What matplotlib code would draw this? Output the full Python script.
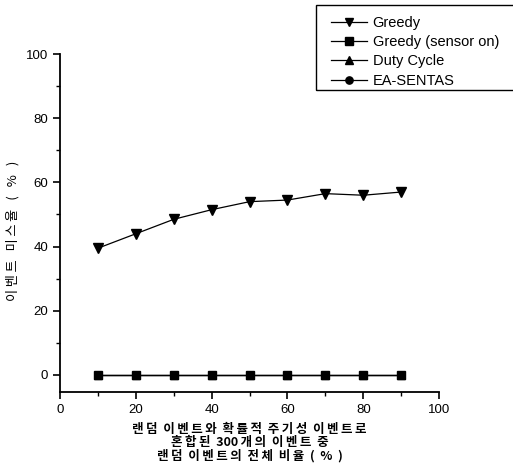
import matplotlib
matplotlib.use("Agg")
import matplotlib.pyplot as plt
from matplotlib.ticker import MultipleLocator
from matplotlib.patches import Rectangle

plt.rcParams['font.family'] = ['Liberation Sans', 'Noto Sans CJK KR', 'DejaVu Sans']

x = [10, 20, 30, 40, 50, 60, 70, 80, 90]
greedy = [39.5, 44, 48.5, 51.5, 54, 54.5, 56.5, 56, 57]
greedy_sensor_on = [0, 0, 0, 0, 0, 0, 0, 0, 0]
duty_cycle = [0, 0, 0, 0, 0, 0, 0, 0, 0]
ea_sentas = [0, 0, 0, 0, 0, 0, 0, 0, 0]
labels = ['Greedy', 'Greedy (sensor on)', 'Duty Cycle', 'EA-SENTAS']
xlabel_lines = ["랜덤 이벤트와 확률적 주기성 이벤트로", "혼합된 300개의 이벤트 중", "랜덤 이벤트의 전체 비율 ( % )"]
ylabel = "이벤트 미스율 ( % )"

TS = "\u2009"


def spaced(s, word_gap='  '):
    out = []
    for i, ch in enumerate(s):
        if ch == ' ':
            out.append(word_gap)
            continue
        out.append(ch)
        if i < len(s) - 1 and s[i + 1] != ' ' and not (ch.isdigit() and s[i + 1].isdigit()):
            out.append(TS)
    return "".join(out)


fig = plt.figure(figsize=(5.13, 4.68), dpi=100)
ax = fig.add_axes([0.117, 0.1624, 0.739, 0.7222])

series = [greedy, greedy_sensor_on, duty_cycle, ea_sentas]
markers = ['v', 's', '^', 'o']
sizes = [6.5, 5.5, 5.5, 5.5]
for ys, m, ms, lab in zip(series, markers, sizes, labels):
    ax.plot(x, ys, color='black', lw=0.9, marker=m, ms=ms, label=lab)

ax.set_xlim(0, 100)
ax.set_ylim(-5.3, 100)
ax.spines['top'].set_visible(False)
ax.spines['right'].set_visible(False)
ax.spines['left'].set_linewidth(1.3)
ax.spines['bottom'].set_linewidth(1.3)
ax.xaxis.set_major_locator(MultipleLocator(20))
ax.xaxis.set_minor_locator(MultipleLocator(10))
ax.yaxis.set_major_locator(MultipleLocator(20))
ax.yaxis.set_minor_locator(MultipleLocator(10))
ax.tick_params(which='major', direction='out', length=5, width=1.2, labelsize=9.5)
ax.tick_params(which='minor', direction='out', length=3, width=1.0)
ax.set_yticks([0, 20, 40, 60, 80, 100])

xl = "\n".join(spaced(s) for s in xlabel_lines)
ax.set_xlabel(xl, fontsize=9, fontweight='bold', linespacing=1.0,
              family=['Noto Sans CJK KR', 'DejaVu Sans'], labelpad=5)

fig.text(13 / 513, 1 - 231 / 468, spaced(ylabel, '   '), rotation=90,
         ha='center', va='center', fontsize=9.5,
         family=['Noto Sans CJK KR', 'DejaVu Sans'])

leg = fig.legend(loc='upper left', bbox_to_anchor=(331 / 513, 1 - 16 / 468), fontsize=10.5,
                 frameon=False, handlelength=2.5, markerscale=0.95,
                 labelspacing=0.36, borderpad=0.0, handletextpad=0.35, borderaxespad=0.0)

fig.patches.append(Rectangle((316 / 513, 1 - 90 / 468), (525 - 316) / 513, (90 - 5) / 468,
                             transform=fig.transFigure, fill=False, edgecolor='black',
                             linewidth=1.0, figure=fig))

fig.savefig('out.png', dpi=100)
